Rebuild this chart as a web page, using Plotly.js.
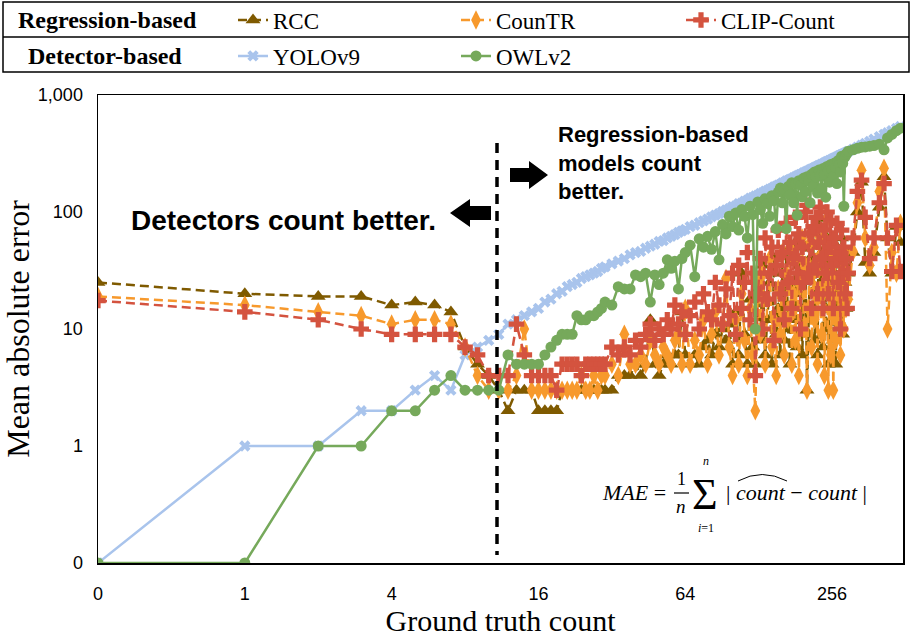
<!DOCTYPE html>
<html>
<head>
<meta charset="utf-8">
<script src="https://cdn.plot.ly/plotly-3.0.1.min.js"></script>
<style>html,body{margin:0;padding:0;background:#fff;}#chart{width:913px;height:637px;}</style>
</head>
<body>
<div id="chart"></div>
<script>
// ---- data ----
const counts = [
  0,1,2,3,4,5,6,7,8,9,10,11,12,13,14,15,16,17,18,19,20,21,22,23,24,25,26,27,28,29,30,
  32,34,36,38,40,42,44,46,48,50,52,54,56,58,60,62,64,
  67,70,73,76,79,82,85,88,91,94,97,100,
  103,106,109,112,115,118,121,124,127,130,
  133,136,139,142,145,148,151,154,157,160,
  163,166,169,172,175,178,181,184,187,190,
  193,196,199,202,205,208,211,214,217,220,
  223,226,229,232,235,238,241,244,247,250,
  253,256,259,262,265,268,271,274,277,280,
  283,286,289,292,295,298,
  312,325,338,350,365,380,400,418,432,450,470,488
];
const rcc = [
  25,20,19,19,16,17,16,14,7,5,4,3,2,3,3,3,2,2,2,2,3,3,3,3,3,3,3,3,3,3,3,
  3,4,4,4,5,4,5,12,5,4,5,6,5,6,6,14,6,
  5,6,5,7,8,6,9,7,10,8,11,5,
  14,6,30,9,5,18,7,5,22,8,
  35,6,12,25,5,40,9,15,6,30,
  8,45,10,5,25,12,55,7,20,35,
  6,15,50,3,9,40,12,70,8,30,
  6,88,18,45,7,25,10,60,5,35,
  15,45,8,30,5,50,12,35,20,60,
  9,40,25,15,45,30,
  45,100,180,37,30,45,110,200,60,30,75,55
];
const countr = [
  19,16,14,13,11,12,12,11,7,4,3,3,3,4,10,3,3,3,3,3,3,3,3,3,4,3,3,4,3,4,4,
  5,4,9,5,5,6,5,8,6,5,7,6,5,8,9,5,15,
  5,8,6,12,5,9,14,6,11,27,7,4,
  12,5,20,8,4,15,6,2,25,9,
  30,5,18,40,7,12,4,22,9,45,
  6,30,12,50,5,20,8,40,4,25,
  60,10,35,3,15,55,7,30,12,70,
  5,40,20,9,60,4,25,88,3,45,
  6,30,3,50,8,25,12,40,6,20,
  35,10,45,15,30,18,
  46,120,227,60,35,50,150,236,10,45,30,80
];
const clipCount = [
  17.5,14,12,10,9,9,9,9,7,6,4,4,4,11,6,4,4,4,4,3,5,5,5,5,4,5,5,5,5,5,5,
  7,6,7,6,8,7,9,11,8,10,9,12,10,16,11,14,9,
  13,17,10,20,14,12,25,16,11,22,13,30,
  9,35,15,25,45,12,30,4,20,40,
  10,60,18,30,50,8,35,70,20,45,
  12,80,25,55,15,40,90,30,65,10,
  50,25,100,114,30,65,15,75,35,90,
  20,55,110,40,15,70,30,100,20,50,
  85,35,15,60,40,80,25,45,10,70,
  30,50,20,40,15,30,
  60,150,187,90,40,60,120,175,60,31,77,31
];
const yolov9 = [
  0,1,1,2,2,3,4,3,6,7,8,9,11,12,13,14,15,17,18,20,21,23,24,25,27,28,29,30,31,33,34,
  36,38,40,43,45,46,49,51,53,56,57,60,62,64,67,69,71,
  75,77,81,84,87,91,94,97,101,104,107,111,
  113,118,119,124,126,131,133,137,139,144,
  146,151,152,157,159,164,166,170,172,177,
  179,184,186,190,192,197,199,203,206,210,
  212,217,219,223,225,230,232,236,239,243,
  245,250,252,256,258,263,265,270,271,276,
  278,283,285,289,291,296,298,303,304,309,
  311,316,318,322,324,329,
  344,358,373,386,402,419,441,461,476,496,518,538
];
const owlv2 = [
  0,0,1,1,2,2,3,4,3,3,3,3,6,5,5,5,5,6,7,8,9,9,9,13,12,12,13,13,14,15,17,
  16,23,22,22,29,28,30,17,29,24,30,39,33,38,22,40,45,
  52,28,59,50,62,48,68,39,78,65,92,75,
  98,70,105,92,60,112,95,10,122,105,
  80,130,118,92,138,125,72,148,160,120,
  155,72,165,140,178,120,175,94,185,170,
  135,195,150,200,185,120,210,165,220,200,
  145,228,205,160,235,210,134,245,225,180,
  255,230,200,262,240,175,275,255,220,300,
  260,112,295,310,320,330,
  340,350,358,360,365,370,380,340,430,460,495,520
];
const xTickValues = [0,1,4,16,64,256];
const xTickLabels = ['0','1','4','16','64','256'];
const yTickValues = [0,1,10,100,1000];
const yTickLabels = ['0','1','10','100','1,000'];

// zero is drawn at the axis "0" position of each log axis
const X_ZERO = 0.25, Y_ZERO = 0.1;
const toX = c => c === 0 ? X_ZERO : c;
const toY = v => v === 0 ? Y_ZERO : v;

const C = {rcc:'#7F5A00', countr:'#F7992C', clip:'#D4533F', yolo:'#A9C4EC', owl:'#76A95B'};
const DASH = '9px,5px';

const xs = counts.map(toX);
const traces = [
  {name:'YOLOv9', y: yolov9, line:{color:C.yolo, width:2.5}, marker:{symbol:'x', size:10, color:C.yolo}, legend:'legend4'},
  {name:'RCC', y: rcc, line:{color:C.rcc, width:2.5, dash:DASH}, marker:{symbol:'triangle-up', size:13, color:C.rcc}, legend:'legend'},
  {name:'CounTR', y: countr, line:{color:C.countr, width:2.5, dash:DASH}, marker:{symbol:'diamond-tall', size:14, color:C.countr}, legend:'legend2'},
  {name:'CLIP-Count', y: clipCount, line:{color:C.clip, width:2.5, dash:DASH}, marker:{symbol:'cross', size:13, color:C.clip}, legend:'legend3'},
  {name:'OWLv2', y: owlv2, line:{color:C.owl, width:2.5}, marker:{symbol:'circle', size:11, color:C.owl}, legend:'legend5'}
].map(t => Object.assign({type:'scatter', mode:'lines+markers', x: xs, showlegend:true}, t, {y: t.y.map(toY)}));

// ---- layout helpers (pixel -> paper) ----
const L = 98, R = 903, T = 95, B = 563, W = 913, H = 637;
const px = x => (x - L) / (R - L);
const py = y => (B - y) / (B - T);

const serif = 'Liberation Serif, Times New Roman, serif';
const sans = 'Liberation Sans, Arial, Helvetica, sans-serif';

function legendAt(xPix, yPix) {
  return {x: xPix / W, y: 1 - yPix / H, xref:'container', yref:'container', xanchor:'left', yanchor:'middle',
    orientation:'h', bgcolor:'rgba(0,0,0,0)', borderwidth:0, font:{family:serif, size:23, color:'#000'}};
}

const annotations = [
  {text:'<b>Regression-based</b>', x:px(107), y:py(20), font:{family:serif, size:24}},
  {text:'<b>Detector-based</b>', x:px(105), y:py(56), font:{family:serif, size:24}},
  {text:'<b>Detectors count better.</b>', x:px(130), y:py(220), xanchor:'left', font:{family:sans, size:28}},
  {text:'<b>Regression-based<br>models count<br>better.</b>', x:px(557), y:py(163), xanchor:'left', align:'left', font:{family:sans, size:22}},
  // MAE formula
  {text:'<i>MAE</i> =', x:px(601), y:py(492), xanchor:'left', font:{family:serif, size:22}},
  {text:'1', x:px(681), y:py(479), font:{family:serif, size:18}},
  {text:'<i>n</i>', x:px(681), y:py(506), font:{family:serif, size:19}},
  {text:'\u03A3', x:px(705), y:py(494), font:{family:serif, size:44}},
  {text:'<i>n</i>', x:px(706), y:py(461), font:{family:serif, size:12}},
  {text:'<i>i</i>=1', x:px(706), y:py(528), font:{family:serif, size:12}},
  {text:'| <i>count</i> \u2212 <i>count</i> |', x:px(725), y:py(492), xanchor:'left', font:{family:serif, size:22}}
].map(a => Object.assign({xref:'paper', yref:'paper', showarrow:false, xanchor:'center', yanchor:'middle', borderpad:0}, a, {font:Object.assign({color:'#000'}, a.font)}));

const path = pts => 'M' + pts.map(p => px(p[0]) + ',' + py(p[1])).join(' L') + ' Z';
const shapes = [
  // legend table
  {type:'rect', x0:px(3), x1:px(909), y0:py(72), y1:py(2), line:{color:'#000', width:1.5}},
  {type:'line', x0:px(3), x1:px(909), y0:py(37), y1:py(37), line:{color:'#000', width:1.5}},
  // divider between detector / regression regime
  {type:'line', x0:px(497), x1:px(497), y0:py(143), y1:py(555), line:{color:'#000', width:3.5, dash:'10px,7px'}},
  // block arrows
  {type:'path', path:path([[450,213],[470,199],[470,206],[491,206],[491,220],[470,220],[470,227]]), fillcolor:'#000', line:{width:0}},
  {type:'path', path:path([[548,175],[529,161],[529,168],[510,168],[510,182],[529,182],[529,189]]), fillcolor:'#000', line:{width:0}},
  // fraction bar and hat of the formula
  {type:'line', x0:px(674), x1:px(689), y0:py(493), y1:py(493), line:{color:'#000', width:1.2}},
  {type:'path', path:'M'+px(738)+','+py(481)+' Q'+px(762)+','+py(468)+' '+px(787)+','+py(481), line:{color:'#000', width:1}}
].map(s => Object.assign({xref:'paper', yref:'paper', layer:'above'}, s));

const axisCommon = {type:'log', showgrid:false, zeroline:false, showline:true, mirror:true, linecolor:'#000', linewidth:1.5,
  ticks:'', tickfont:{family:sans, size:18, color:'#000'}};

const layout = {
  width:W, height:H, autosize:false,
  margin:{l:L, r:W-R, t:T, b:H-B, pad:0},
  paper_bgcolor:'#fff', plot_bgcolor:'#fff',
  showlegend:true,
  xaxis: Object.assign({}, axisCommon, {
    range:[Math.log10(X_ZERO), Math.log10(500)],
    tickvals: xTickValues.map(toX), ticktext: xTickLabels, ticklabelstandoff: 14,
    title:{text:'Ground truth count', font:{family:serif, size:30, color:'#000'}, standoff:4}
  }),
  yaxis: Object.assign({}, axisCommon, {
    range:[Math.log10(Y_ZERO), 3],
    tickvals: yTickValues.map(toY), ticktext: yTickLabels, ticklabelstandoff: 10,
    title:{text:'Mean absolute error', font:{family:serif, size:32, color:'#000'}, standoff:2}
  }),
  legend: legendAt(233, 20),
  legend2: legendAt(456, 20),
  legend3: legendAt(681, 20),
  legend4: legendAt(233, 56),
  legend5: legendAt(456, 56),
  annotations: annotations,
  shapes: shapes
};

Plotly.newPlot('chart', traces, layout, {displayModeBar:false, staticPlot:true});
</script>
</body>
</html>
